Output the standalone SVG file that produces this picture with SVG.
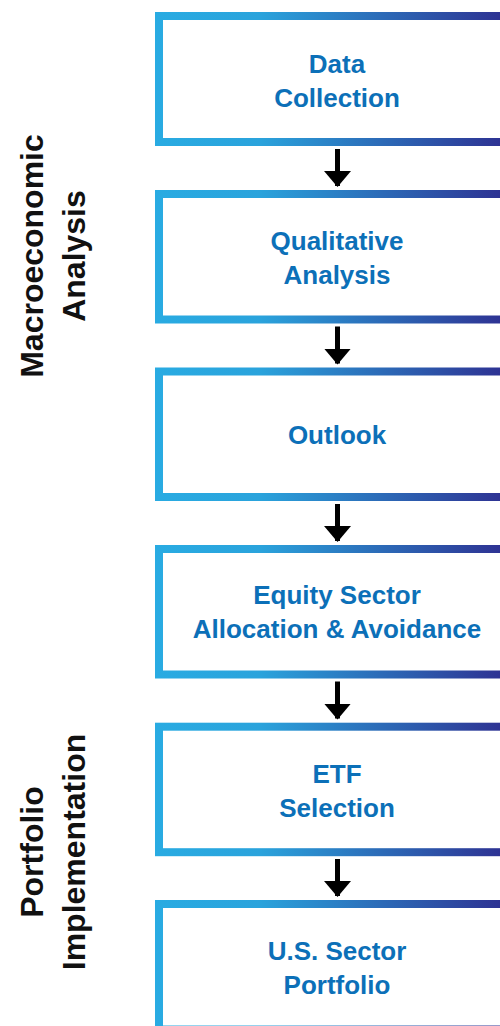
<svg xmlns="http://www.w3.org/2000/svg" width="500" height="1026" viewBox="0 0 500 1026">
  <defs>
    <linearGradient id="border" gradientUnits="userSpaceOnUse" x1="155" y1="0" x2="505" y2="0">
      <stop offset="0" stop-color="#29abe2"/>
      <stop offset="0.3" stop-color="#2aa3dc"/>
      <stop offset="1" stop-color="#2e3192"/>
    </linearGradient>
    <marker id="head" viewBox="0 0 16 27" refX="15" refY="13.5" markerWidth="16" markerHeight="27" markerUnits="userSpaceOnUse" orient="auto">
      <path d="M0 0 L16 13.5 L0 27 Z" fill="#000"/>
    </marker>
  </defs>
  <style>
    .box { fill: #fff; stroke: url(#border); stroke-width: 8; }
    .lbl { font-family: "Liberation Sans", Arial, sans-serif; font-weight: bold; font-size: 26px; fill: #0c70b8; text-anchor: middle; }
    .side { font-family: "Liberation Sans", Arial, sans-serif; font-weight: bold; font-size: 32px; fill: #111; text-anchor: middle; }
    .conn { stroke: #000; stroke-width: 5; fill: none; }
  </style>

  <g id="side-macro">
    <text class="side" transform="translate(43,256) rotate(-90)">Macroeconomic</text>
    <text class="side" transform="translate(85,256) rotate(-90)">Analysis</text>
  </g>
  <g id="side-portfolio">
    <text class="side" transform="translate(43,852) rotate(-90)">Portfolio</text>
    <text class="side" transform="translate(85,852) rotate(-90)">Implementation</text>
  </g>

  <g id="node-data">
    <rect class="box" x="159" y="16" width="360" height="126"/>
    <text class="lbl" x="337" y="73">Data</text>
    <text class="lbl" x="337" y="107">Collection</text>
  </g>
  <g id="node-qualitative">
    <rect class="box" x="159" y="194" width="360" height="125.5"/>
    <text class="lbl" x="337" y="250">Qualitative</text>
    <text class="lbl" x="337" y="284">Analysis</text>
  </g>
  <g id="node-outlook">
    <rect class="box" x="159" y="371.5" width="360" height="125.5"/>
    <text class="lbl" x="337" y="444">Outlook</text>
  </g>
  <g id="node-equity">
    <rect class="box" x="159" y="549" width="360" height="125.5"/>
    <text class="lbl" x="337" y="604">Equity Sector</text>
    <text class="lbl" x="337" y="638">Allocation &amp; Avoidance</text>
  </g>
  <g id="node-etf">
    <rect class="box" x="159" y="726.7" width="360" height="125.5"/>
    <text class="lbl" x="337" y="783">ETF</text>
    <text class="lbl" x="337" y="817">Selection</text>
  </g>
  <g id="node-portfolio">
    <rect class="box" x="159" y="904" width="360" height="125.5"/>
    <text class="lbl" x="337" y="960">U.S. Sector</text>
    <text class="lbl" x="337" y="994">Portfolio</text>
  </g>

  <g id="connectors">
    <line class="conn" x1="337.5" y1="149" x2="337.5" y2="186" marker-end="url(#head)"/>
    <line class="conn" x1="337.5" y1="326.5" x2="337.5" y2="363.5" marker-end="url(#head)"/>
    <line class="conn" x1="337.5" y1="504" x2="337.5" y2="541" marker-end="url(#head)"/>
    <line class="conn" x1="337.5" y1="681.5" x2="337.5" y2="718.5" marker-end="url(#head)"/>
    <line class="conn" x1="337.5" y1="859" x2="337.5" y2="896" marker-end="url(#head)"/>
  </g>
</svg>
